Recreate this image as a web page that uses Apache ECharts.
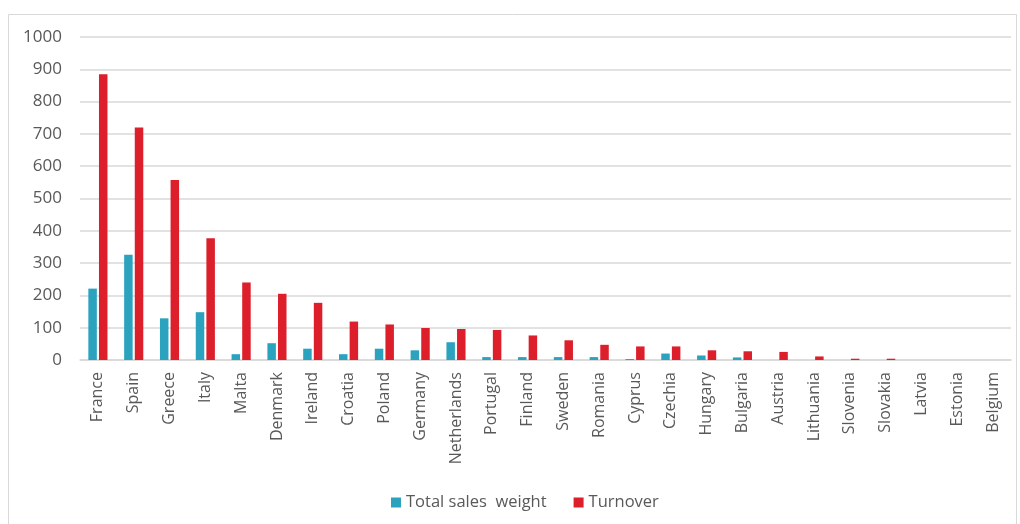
<!DOCTYPE html>
<html>
<head>
<meta charset="utf-8">
<script src="https://cdn.jsdelivr.net/npm/echarts@6/dist/echarts.min.js"></script>
<style>
html,body{margin:0;padding:0;background:#fff;}
#chart{width:1020px;height:524px;}
</style>
</head>
<body>
<div id="chart"></div>
<script>
var categories = ["France","Spain","Greece","Italy","Malta","Denmark","Ireland","Croatia","Poland","Germany","Netherlands","Portugal","Finland","Sweden","Romania","Cyprus","Czechia","Hungary","Bulgaria","Austria","Lithuania","Slovenia","Slovakia","Latvia","Estonia","Belgium"];
var totalSalesWeight = [221,326,129,148,18,52,35,18,35,30,55,9,9,9,9,3,20,14,8,0,0,0,0,0,0,0];
var turnover = [885,720,557,377,240,205,177,119,110,99,96,93,76,61,47,42,42,30,27,25,11,4,4,0,0,0];
var seriesNames = ["Total sales  weight","Turnover"];

var chart = echarts.init(document.getElementById('chart'));
chart.setOption({
  animation: false,
  backgroundColor: '#fff',
  textStyle: {fontFamily: 'Open Sans'},
  graphic: [{
    type: 'rect', silent: true, z: -1,
    shape: {x: 8.5, y: 14.5, width: 1008, height: 520},
    style: {fill: 'none', stroke: '#d9d9d9', lineWidth: 1}
  }],
  grid: {left: 80, right: 9, top: 37, bottom: 164},
  legend: {
    left: 391, top: 494, padding: 0,
    itemWidth: 10, itemHeight: 10, itemGap: 27,
    icon: 'rect',
    textStyle: {fontFamily: 'Open Sans', fontSize: 16.5, color: '#595959'},
    data: seriesNames
  },
  xAxis: {
    type: 'category',
    data: categories,
    axisLine: {show: true, lineStyle: {color: '#d9d9d9', width: 1.5}},
    axisTick: {show: false},
    axisLabel: {rotate: 90, margin: 12, fontSize: 16, color: '#595959', fontFamily: 'Open Sans', interval: 0}
  },
  yAxis: {
    type: 'value', min: 0, max: 1000, interval: 100,
    axisLine: {show: false}, axisTick: {show: false},
    axisLabel: {margin: 18, fontSize: 17, color: '#595959', fontFamily: 'Open Sans', formatter: function (v) { return String(v); }},
    splitLine: {lineStyle: {color: '#d9d9d9', width: 1.5}}
  },
  series: [
    {name: seriesNames[0], type: 'bar', data: totalSalesWeight, barWidth: 8.5, barGap: '25%', itemStyle: {color: '#2ba3bf'}},
    {name: seriesNames[1], type: 'bar', data: turnover, barWidth: 8.5, barGap: '25%', itemStyle: {color: '#dc1f2b'}}
  ]
});
</script>
</body>
</html>
